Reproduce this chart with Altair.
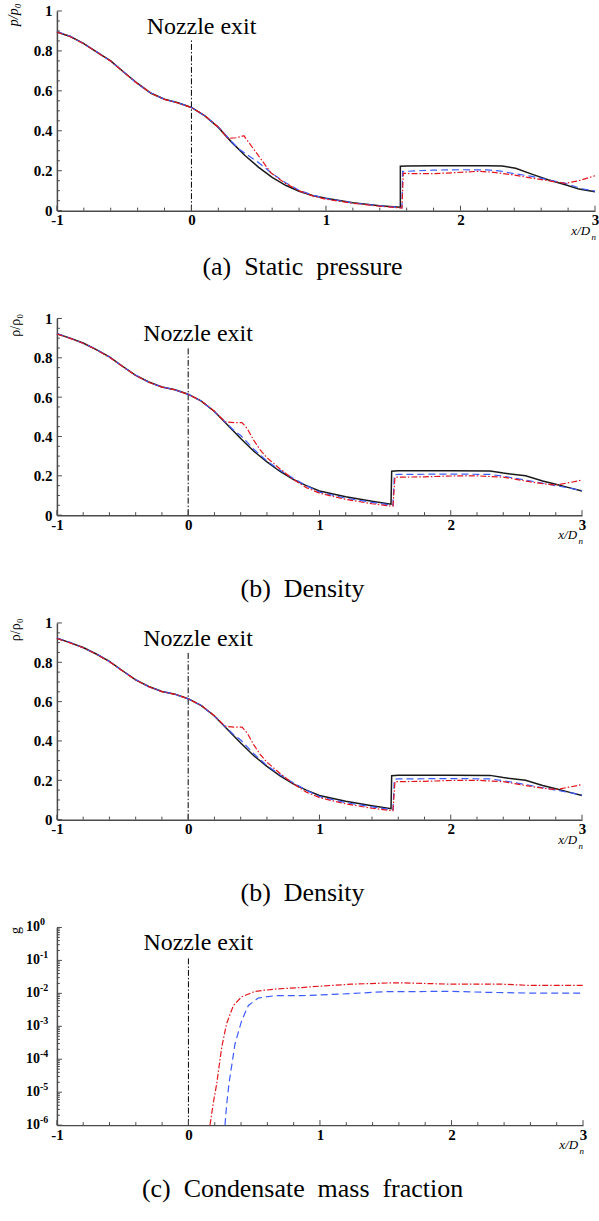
import altair as alt
import pandas as pd

FONT = "Liberation Serif"

# ---------------- (a) static pressure p/p0 ----------------
pa_x_black = [-1.0, -0.9, -0.8, -0.7, -0.6, -0.5, -0.4, -0.3, -0.2, -0.1, 0.0, 0.1, 0.2, 0.3, 0.4, 0.5, 0.6, 0.7, 0.8, 0.9, 1.0,
              1.2, 1.4, 1.553, 1.553, 1.6, 1.8, 2.0, 2.2, 2.31, 2.41, 2.53, 2.65, 2.78, 2.88, 3.0]
pa_y_black = [0.895, 0.872, 0.837, 0.793, 0.750, 0.692, 0.637, 0.588, 0.558, 0.540, 0.517, 0.475, 0.417, 0.342, 0.275, 0.217, 0.167, 0.127, 0.097, 0.076, 0.062,
              0.040, 0.025, 0.017, 0.222, 0.224, 0.225, 0.225, 0.225, 0.224, 0.212, 0.183, 0.155, 0.130, 0.108, 0.095]
pa_x_blue = [-1.0, -0.9, -0.8, -0.7, -0.6, -0.5, -0.4, -0.3, -0.2, -0.1, 0.0, 0.1, 0.2, 0.3, 0.35, 0.4, 0.5, 0.6, 0.7, 0.8, 0.9, 1.0,
             1.2, 1.4, 1.565, 1.57, 1.6, 1.8, 2.0, 2.2, 2.3, 2.4, 2.53, 2.68, 2.78, 2.9, 3.0]
pa_y_blue = [0.897, 0.873, 0.836, 0.794, 0.748, 0.693, 0.634, 0.589, 0.558, 0.540, 0.517, 0.475, 0.418, 0.345, 0.310, 0.287, 0.240, 0.186, 0.140, 0.102, 0.078, 0.061,
             0.039, 0.024, 0.015, 0.197, 0.197, 0.203, 0.205, 0.204, 0.198, 0.185, 0.172, 0.150, 0.137, 0.110, 0.098]
pa_x_red = [-1.0, -0.9, -0.8, -0.7, -0.6, -0.5, -0.4, -0.3, -0.2, -0.1, 0.0, 0.1, 0.2, 0.27, 0.33, 0.39, 0.49, 0.59, 0.69, 0.8, 0.9, 1.0,
            1.2, 1.4, 1.565, 1.575, 1.6, 1.78, 1.95, 2.13, 2.23, 2.38, 2.53, 2.68, 2.78, 2.88, 3.0]
pa_y_red = [0.895, 0.871, 0.836, 0.792, 0.749, 0.691, 0.636, 0.588, 0.557, 0.539, 0.516, 0.476, 0.418, 0.362, 0.365, 0.375, 0.283, 0.190, 0.140, 0.100, 0.074, 0.057,
            0.037, 0.022, 0.013, 0.188, 0.186, 0.185, 0.190, 0.197, 0.193, 0.180, 0.163, 0.147, 0.137, 0.150, 0.175]

# ---------------- (b) density rho/rho0 ----------------
pb_x_black = [-1.0, -0.9, -0.8, -0.7, -0.6, -0.5, -0.4, -0.3, -0.2, -0.1, 0.0, 0.1, 0.2, 0.3, 0.4, 0.5, 0.6, 0.7, 0.8, 0.9, 1.0,
              1.2, 1.4, 1.545, 1.55, 1.6, 2.0, 2.3, 2.4, 2.57, 2.7, 2.8, 2.9, 3.0]
pb_y_black = [0.922, 0.900, 0.875, 0.842, 0.805, 0.757, 0.711, 0.677, 0.652, 0.638, 0.615, 0.580, 0.527, 0.458, 0.390, 0.325, 0.271, 0.222, 0.182, 0.150, 0.123,
              0.093, 0.071, 0.056, 0.223, 0.226, 0.226, 0.225, 0.214, 0.200, 0.174, 0.157, 0.140, 0.123]
pb_x_blue = [-1.0, -0.9, -0.8, -0.7, -0.6, -0.5, -0.4, -0.3, -0.2, -0.1, 0.0, 0.1, 0.2, 0.3, 0.35, 0.4, 0.5, 0.6, 0.7, 0.8, 0.9, 1.0,
             1.2, 1.4, 1.56, 1.57, 1.6, 2.0, 2.3, 2.4, 2.6, 2.8, 2.9, 3.0]
pb_y_blue = [0.923, 0.901, 0.874, 0.843, 0.804, 0.756, 0.712, 0.676, 0.652, 0.637, 0.614, 0.580, 0.526, 0.462, 0.430, 0.405, 0.335, 0.275, 0.228, 0.188, 0.150, 0.117,
             0.086, 0.065, 0.050, 0.206, 0.207, 0.209, 0.207, 0.198, 0.175, 0.150, 0.138, 0.125]
pb_x_red = [-1.0, -0.9, -0.8, -0.7, -0.6, -0.5, -0.4, -0.3, -0.2, -0.1, 0.0, 0.1, 0.2, 0.28, 0.35, 0.41, 0.45, 0.5, 0.55, 0.6, 0.7, 0.8, 0.9, 1.0,
            1.2, 1.4, 1.56, 1.575, 1.6, 1.8, 2.0, 2.2, 2.4, 2.6, 2.7, 2.8, 2.9, 3.0]
pb_y_red = [0.921, 0.899, 0.874, 0.841, 0.803, 0.756, 0.710, 0.676, 0.651, 0.637, 0.614, 0.581, 0.528, 0.475, 0.470, 0.470, 0.440, 0.380, 0.330, 0.292, 0.235, 0.182, 0.140, 0.112,
            0.080, 0.058, 0.045, 0.193, 0.193, 0.195, 0.199, 0.200, 0.193, 0.170, 0.160, 0.153, 0.165, 0.178]

# ---------------- (c) condensate mass fraction g ----------------
pc_x_red = [0.164, 0.19, 0.215, 0.253, 0.29, 0.342, 0.405, 0.506, 0.658, 0.86, 1.0, 1.24, 1.57, 2.0, 2.38, 2.58, 3.0]
pc_y_red = [1e-6, 5.0e-6, 1.8e-5, 2.3e-4, 1.2e-3, 4.3e-3, 7.9e-3, 1.15e-2, 1.35e-2, 1.5e-2, 1.65e-2, 1.9e-2, 2.1e-2, 1.9e-2, 1.9e-2, 1.75e-2, 1.75e-2]
pc_x_blue = [0.278, 0.29, 0.308, 0.354, 0.405, 0.456, 0.53, 0.658, 0.86, 1.16, 1.49, 2.0, 2.28, 2.58, 3.0]
pc_y_blue = [1e-6, 4e-6, 1.8e-5, 2.9e-4, 1.5e-3, 4.3e-3, 7.2e-3, 8.5e-3, 8.5e-3, 9.5e-3, 1.12e-2, 1.15e-2, 1.07e-2, 1.02e-2, 1.02e-2]

# ---------------- axes / annotations ----------------
x_major = [-1, 0, 1, 2, 3]
x_minor = [-0.8, -0.6, -0.4, -0.2, 0.2, 0.4, 0.6, 0.8, 1.2, 1.4, 1.6, 1.8, 2.2, 2.4, 2.6, 2.8]
y_major = [0, 0.2, 0.4, 0.6, 0.8, 1]
y_minor = [0.05, 0.1, 0.15, 0.25, 0.3, 0.35, 0.45, 0.5, 0.55, 0.65, 0.7, 0.75, 0.85, 0.9, 0.95]
log_exps = [0, -1, -2, -3, -4, -5, -6]
log_major = [10.0 ** e for e in log_exps]
log_minor = [m * 10.0 ** e for e in range(-6, 0) for m in range(2, 10)]
log_exp_labels = ["0", "-1", "-2", "-3", "-4", "-5", "-6"]

nozzle_x = 0.0
nozzle_label = "Nozzle exit"
captions = ["(a)\u00a0\u00a0Static\u00a0\u00a0pressure", "(b)\u00a0\u00a0Density", "(b)\u00a0\u00a0Density",
            "(c)\u00a0\u00a0Condensate\u00a0\u00a0mass\u00a0\u00a0fraction"]

STYLE = {
    "black": dict(color="#1a1a1a", strokeWidth=1.5),
    "blue": dict(color="#3d5cff", strokeWidth=1.2, strokeDash=[7, 4]),
    "red": dict(color="#e3161e", strokeWidth=1.2, strokeDash=[6, 2, 1.5, 2]),
}
AX = "#4a4a4a"


def panel(w, h, ylog, ydomain, series, ytitle, ytitle_italic, ytitle_x, ytitle_y,
          noz_top, noz_label_y, caption, cap_y, anchor=False):
    xs = alt.Scale(domain=[-1, 3], nice=False, zero=False)
    if ylog:
        ys = alt.Scale(type="log", domain=ydomain, nice=False)
    else:
        ys = alt.Scale(domain=ydomain, nice=False, zero=False)

    xaxis = alt.Axis(values=x_major, labelExpr="toString(datum.value)", ticks=False, grid=False,
                     domainColor=AX, domainWidth=1.5, labelFont=FONT, labelFontWeight="bold",
                     labelFontSize=15, labelColor="black", labelPadding=2, title=None,
                     labelFlush=False, labelOverlap=False, orient="bottom")
    yaxis_kw = dict(ticks=False, grid=False, domainColor=AX, domainWidth=1.5, title=ytitle,
                    titleFont=FONT, titleFontSize=14, titleFontWeight="normal",
                    titleFontStyle="italic" if ytitle_italic else "normal", titleColor="black",
                    titleAngle=270, titleX=ytitle_x, titleY=ytitle_y, titleAlign="right",
                    titleBaseline="middle", orient="left")
    if ylog:
        yaxis = alt.Axis(labels=False, **yaxis_kw)
    else:
        yaxis = alt.Axis(values=y_major, labelExpr="toString(datum.value)", labelFont=FONT,
                         labelFontWeight="bold", labelFontSize=15, labelColor="black",
                         labelPadding=5, labelFlush=False, labelOverlap=False, **yaxis_kw)

    layers = []
    # nozzle exit line (carries the axes)
    noz_df = pd.DataFrame({"x": [nozzle_x], "y": [ydomain[0]], "y2": [noz_top]})
    layers.append(alt.Chart(noz_df).mark_rule(color="black", strokeWidth=1, strokeDash=[6, 2, 1.5, 2]).encode(
        x=alt.X("x:Q", scale=xs, axis=xaxis),
        y=alt.Y("y:Q", scale=ys, axis=yaxis),
        y2="y2:Q"))

    for name, xv, yv in series:
        df = pd.DataFrame({"x": xv, "y": yv, "i": list(range(len(xv)))})
        layers.append(alt.Chart(df).mark_line(**STYLE[name]).encode(
            x=alt.X("x:Q", scale=xs, axis=None),
            y=alt.Y("y:Q", scale=ys, axis=None),
            order=alt.Order("i:Q")))

    # inward ticks
    for vals, ln in ((x_major, 5), (x_minor, 3)):
        layers.append(alt.Chart(pd.DataFrame({"v": vals})).mark_rule(color=AX, strokeWidth=1).encode(
            x=alt.X("v:Q", scale=xs, axis=None), y=alt.value(h), y2=alt.value(h - ln)))
    ymaj = log_major if ylog else y_major
    ymin = log_minor if ylog else y_minor
    for vals, ln in ((ymaj, 5), (ymin, 3)):
        layers.append(alt.Chart(pd.DataFrame({"v": vals})).mark_rule(color=AX, strokeWidth=1).encode(
            y=alt.Y("v:Q", scale=ys, axis=None), x=alt.value(0), x2=alt.value(ln)))

    if ylog:
        ldf = pd.DataFrame({"v": log_major, "b": ["10"] * len(log_major), "e": log_exp_labels})
        layers.append(alt.Chart(ldf).mark_text(font=FONT, fontWeight="bold", fontSize=14, align="right",
                                               baseline="middle", color="black").encode(
            y=alt.Y("v:Q", scale=ys, axis=None), x=alt.value(-17), text="b:N"))
        layers.append(alt.Chart(ldf).mark_text(font=FONT, fontWeight="bold", fontSize=10, align="left",
                                               baseline="middle", dy=-5, color="black").encode(
            y=alt.Y("v:Q", scale=ys, axis=None), x=alt.value(-17), text="e:N"))

    # nozzle label
    ndf = pd.DataFrame({"x": [0.075], "y": [noz_label_y], "t": [nozzle_label]})
    layers.append(alt.Chart(ndf).mark_text(font=FONT, fontSize=24, align="center", baseline="alphabetic",
                                           color="black").encode(
        x=alt.X("x:Q", scale=xs, axis=None), y=alt.Y("y:Q", scale=ys, axis=None), text="t:N"))

    # x/D_n label
    layers.append(alt.Chart(pd.DataFrame({"t": ["x/D"]})).mark_text(
        font=FONT, fontSize=13, fontStyle="italic", align="right", baseline="alphabetic", color="black").encode(
        x=alt.value(w - 5), y=alt.value(h + 24), text="t:N"))
    layers.append(alt.Chart(pd.DataFrame({"t": ["n"]})).mark_text(
        font=FONT, fontSize=9, fontStyle="italic", align="right", baseline="alphabetic", color="black").encode(
        x=alt.value(w + 1), y=alt.value(h + 29), text="t:N"))

    # caption
    layers.append(alt.Chart(pd.DataFrame({"t": [caption]})).mark_text(
        font=FONT, fontSize=26, align="center", baseline="alphabetic", color="black").encode(
        x=alt.value(246), y=alt.value(cap_y), text="t:N"))

    if anchor:
        layers.append(alt.Chart(pd.DataFrame({"t": [0]})).mark_rule(color="white", opacity=0, strokeWidth=1).encode(
            x=alt.value(-57), x2=alt.value(-56), y=alt.value(-10), y2=alt.value(-10)))

    return alt.layer(*layers).resolve_axis(x="independent", y="independent").properties(width=w, height=h)


pA = panel(539, 200, False, [0, 1],
           [("black", pa_x_black, pa_y_black), ("blue", pa_x_blue, pa_y_blue), ("red", pa_x_red, pa_y_red)],
           "p/p\u2080", True, -43, -8, 0.855, 0.885, captions[0], 264, anchor=True)
pB = panel(526, 197, False, [0, 1],
           [("black", pb_x_black, pb_y_black), ("blue", pb_x_blue, pb_y_blue), ("red", pb_x_red, pb_y_red)],
           "\u03c1/\u03c1\u2080", False, -41, -5, 0.85, 0.885, captions[1], 279)
pC = panel(526, 197, False, [0, 1],
           [("black", pb_x_black, pb_y_black), ("blue", pb_x_blue, pb_y_blue), ("red", pb_x_red, pb_y_red)],
           "\u03c1/\u03c1\u2080", False, -41, -5, 0.85, 0.885, captions[2], 278)
pD = panel(527, 198, True, [1e-6, 1],
           [("blue", pc_x_blue, pc_y_blue), ("red", pc_x_red, pc_y_red)],
           "g", False, -41, -1, 0.13, 0.205, captions[3], 270)

chart = alt.vconcat(pA, pB, pC, pD, spacing=108, bounds="flush").properties(
    padding={"left": 0, "top": 0, "right": 0, "bottom": 0}
).configure_view(stroke=None)

chart.save("out.html", embed_options={"renderer": "svg", "actions": False})
